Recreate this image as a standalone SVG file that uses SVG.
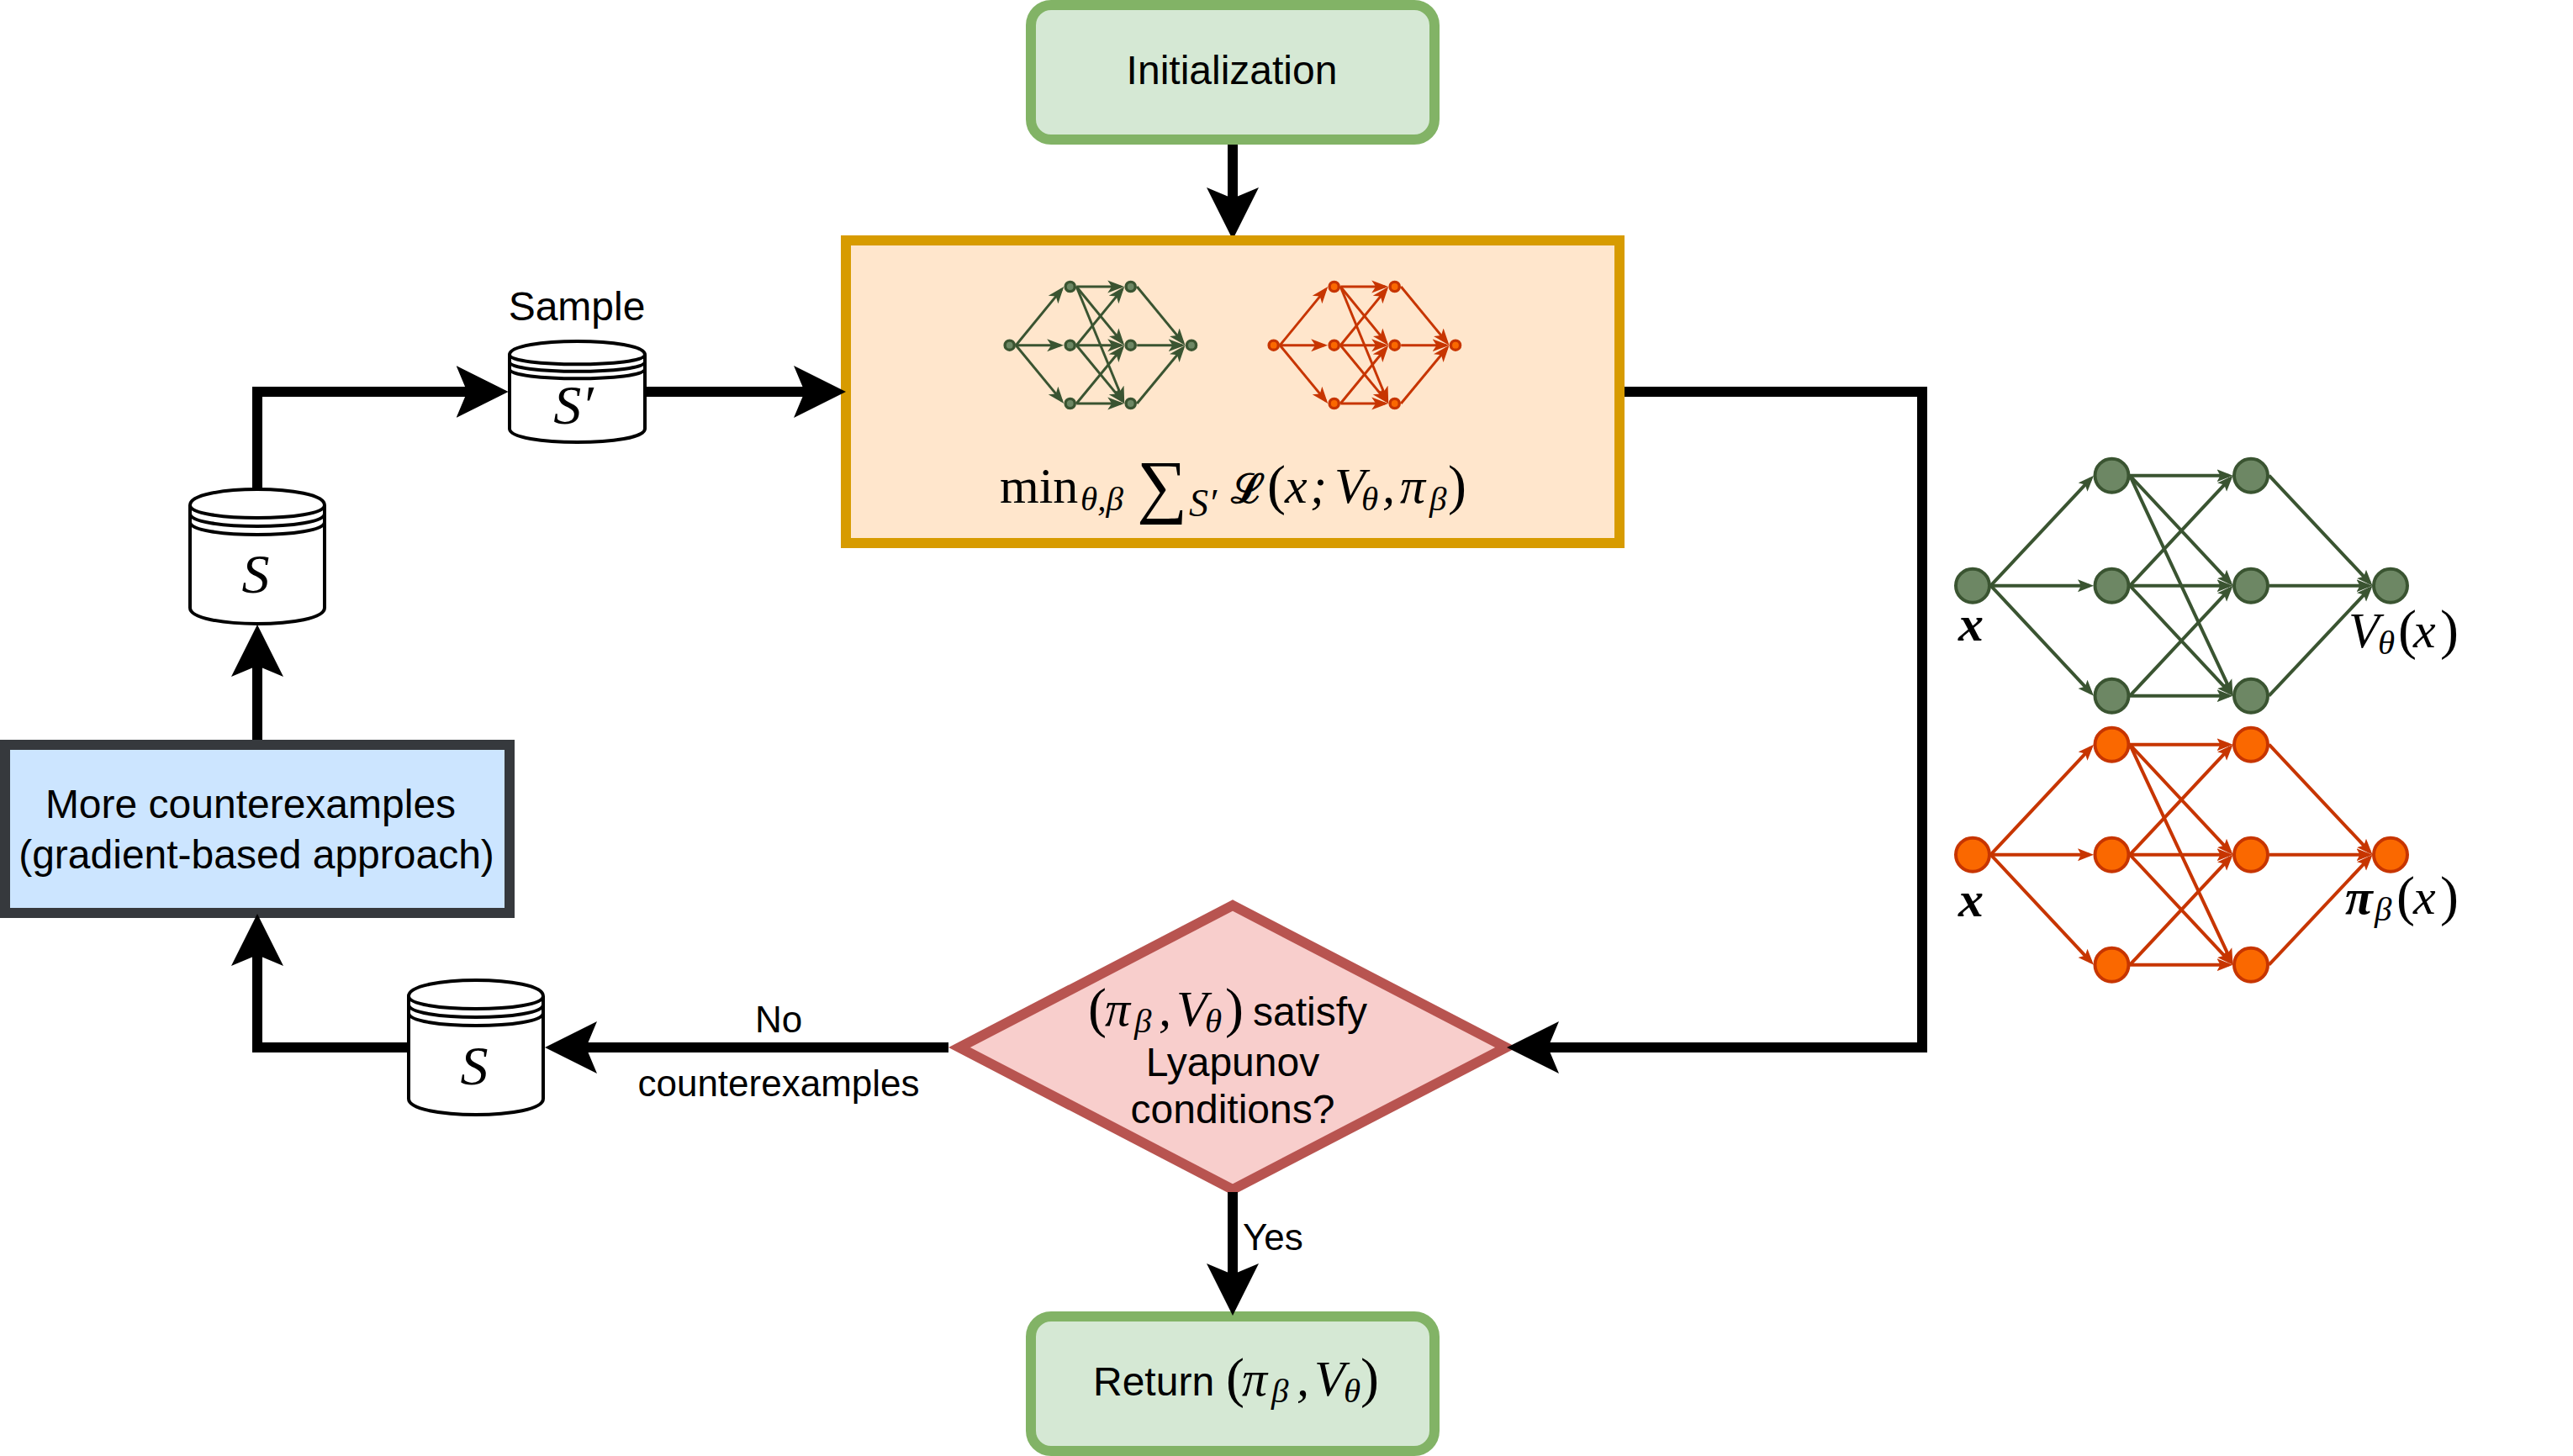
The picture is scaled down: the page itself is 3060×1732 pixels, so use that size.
<svg xmlns="http://www.w3.org/2000/svg" width="3060" height="1732" viewBox="0 0 3060 1732">
<style>
text{fill:#000}
.t{font-family:"Liberation Sans",Arial,sans-serif;font-size:48px}
.t44{font-family:"Liberation Sans",Arial,sans-serif;font-size:44px}
.m{font-family:"Liberation Serif","Times New Roman",serif;font-size:60px;font-style:italic}
.m tspan.up{font-style:normal}
.m tspan.p{font-style:normal;font-size:66px}
.m tspan.s{font-size:41px}
.big{font-size:66px}
.c{text-anchor:middle}
.cyl{fill:#fff;stroke:#000;stroke-width:4}
.cyl path.l{fill:none}
.box{stroke-width:12}
.green{fill:#d5e8d4;stroke:#82b366}
.conn{fill:none;stroke:#000;stroke-width:12;stroke-linejoin:miter}
.eg{fill:none;stroke:#3a5431;stroke-width:4}
.eo{fill:none;stroke:#c73500;stroke-width:4}
.eg line{marker-end:url(#ag)}
.eo line{marker-end:url(#ao)}
.eg.mini,.eo.mini{stroke-width:3}
.eg.mini line{marker-end:url(#agm)}
.eo.mini line{marker-end:url(#aom)}
.ng circle{fill:#6d8764;stroke:#3a5431;stroke-width:4}
.no circle{fill:#fa6800;stroke:#c73500;stroke-width:4}
.ng.mini circle,.no.mini circle{stroke-width:3.4}
</style>
<defs>
<marker id="ab" markerUnits="userSpaceOnUse" viewBox="0 -32 62 64" markerWidth="62" markerHeight="64" refX="50" refY="0" orient="auto"><path d="M0,-31L62,0L0,31L13,0Z" fill="#000"/></marker>
<marker id="abt" markerUnits="userSpaceOnUse" viewBox="0 -32 62 64" markerWidth="62" markerHeight="64" refX="50" refY="0" orient="auto"><path d="M0,-31L57,-2.5L57,2.5L0,31L13,0Z" fill="#000"/></marker>
<marker id="ag" markerUnits="userSpaceOnUse" viewBox="0 -8 19 16" markerWidth="19" markerHeight="16" refX="14" refY="0" orient="auto"><path d="M0,-7.5L19,0L0,7.5L4,0Z" fill="#3a5431"/></marker>
<marker id="ao" markerUnits="userSpaceOnUse" viewBox="0 -8 19 16" markerWidth="19" markerHeight="16" refX="14" refY="0" orient="auto"><path d="M0,-7.5L19,0L0,7.5L4,0Z" fill="#c73500"/></marker>
<marker id="agm" markerUnits="userSpaceOnUse" viewBox="0 -8 20 16" markerWidth="20" markerHeight="16" refX="16" refY="0" orient="auto"><path d="M0,-7.5L20,0L0,7.5L5,0Z" fill="#3a5431"/></marker>
<marker id="aom" markerUnits="userSpaceOnUse" viewBox="0 -8 20 16" markerWidth="20" markerHeight="16" refX="16" refY="0" orient="auto"><path d="M0,-7.5L20,0L0,7.5L5,0Z" fill="#c73500"/></marker>
</defs>

<g id="node-init"><rect class="box green" x="1226" y="6" width="480" height="160" rx="24"/><text class="t c" x="1465" y="100">Initialization</text></g>
<g id="node-return"><rect class="box green" x="1226" y="1566" width="480" height="160" rx="24"/>
<text class="t" x="1300" y="1660">Return</text>
<text class="m" y="1660"><tspan class="p" x="1458" y="1661">(</tspan><tspan x="1477" y="1660">π</tspan><tspan class="s" x="1512" y="1668">β</tspan><tspan x="1542" y="1660">,</tspan><tspan x="1563">V</tspan><tspan class="s" x="1598" y="1668">θ</tspan><tspan class="p" x="1618" y="1661">)</tspan></text></g>
<g id="node-more"><rect class="box" fill="#cce5ff" stroke="#36393d" x="6" y="886" width="600" height="200"/><text class="t c" x="298" y="973">More counterexamples</text><text class="t c" x="305" y="1033">(gradient-based approach)</text></g>
<g id="node-check"><polygon class="box" fill="#f8cecc" stroke="#b85450" points="1466,1077 1791,1246 1466,1415 1141,1246"/>
<text class="m" y="1220"><tspan class="p" x="1294" y="1221">(</tspan><tspan x="1314" y="1220">π</tspan><tspan class="s" x="1349" y="1228">β</tspan><tspan x="1378" y="1220">,</tspan><tspan x="1399">V</tspan><tspan class="s" x="1433" y="1228">θ</tspan><tspan class="p" x="1457" y="1221">)</tspan></text>
<text class="t" x="1490" y="1220">satisfy</text>
<text class="t c" x="1466" y="1280">Lyapunov</text><text class="t c" x="1466" y="1336">conditions?</text></g>

<g id="node-S"><g class="cyl"><path d="M226,601C226,575.7 386,575.7 386,601V723C386,748.3 226,748.3 226,723Z"/><path class="l" d="M226,601C226,621 386,621 386,601M226,611C226,631 386,631 386,611M226,621C226,641 386,641 386,621"/></g><text class="m c big" x="304" y="705">S</text></g>
<g id="node-Sprime"><g class="cyl"><path d="M606,422C606,400.7 767,400.7 767,422V510C767,531.3 606,531.3 606,510Z"/><path class="l" d="M606,422C606,437 767,437 767,422M606,430.5C606,445.5 767,445.5 767,430.5M606,439C606,454 767,454 767,439"/></g><text class="m c big" x="682" y="504">S′</text><text class="t c" x="686" y="381">Sample</text></g>
<g id="node-S2"><g class="cyl" transform="translate(260,584)"><path d="M226,601C226,575.7 386,575.7 386,601V723C386,748.3 226,748.3 226,723Z"/><path class="l" d="M226,601C226,621 386,621 386,601M226,611C226,631 386,631 386,611M226,621C226,641 386,641 386,621"/></g><text class="m c big" x="564" y="1290">S</text></g>

<g id="net-value">
<g id="edges-value" class="eg">
<line x1="2367.5" y1="696.7" x2="2486.6" y2="569.3"/><line x1="2367.5" y1="696.7" x2="2485" y2="696.7"/><line x1="2367.5" y1="696.7" x2="2486.6" y2="824.1"/>
<line x1="2533" y1="565.7" x2="2650.5" y2="565.7"/><line x1="2533" y1="565.7" x2="2652.1" y2="693.1"/><line x1="2533" y1="565.7" x2="2653.4" y2="823.2"/>
<line x1="2533" y1="696.7" x2="2652.1" y2="569.3"/><line x1="2533" y1="696.7" x2="2650.5" y2="696.7"/><line x1="2533" y1="696.7" x2="2652.1" y2="824.1"/>
<line x1="2533" y1="827.7" x2="2652.1" y2="700.3"/><line x1="2533" y1="827.7" x2="2650.5" y2="827.7"/>
<line x1="2698.5" y1="565.7" x2="2818.1" y2="693.1"/><line x1="2698.5" y1="696.7" x2="2816.5" y2="696.7"/><line x1="2698.5" y1="827.7" x2="2818.1" y2="700.3"/>
</g>
<g class="ng">
<circle cx="2346" cy="696.7" r="20"/>
<circle cx="2511.5" cy="565.7" r="20"/><circle cx="2511.5" cy="696.7" r="20"/><circle cx="2511.5" cy="827.7" r="20"/>
<circle cx="2677" cy="565.7" r="20"/><circle cx="2677" cy="696.7" r="20"/><circle cx="2677" cy="827.7" r="20"/>
<circle cx="2843" cy="696.7" r="20"/>
</g>
<text class="m c" x="2344" y="762" font-weight="bold">x</text>
<text class="m" y="770"><tspan x="2793">V</tspan><tspan class="s" x="2828" y="778">θ</tspan><tspan class="p" x="2852" y="771">(</tspan><tspan x="2870" y="770">x</tspan><tspan class="p" x="2902" y="771">)</tspan></text>
</g>

<g id="net-policy">
<g id="edges-policy" class="eo">
<line x1="2367.5" y1="1016.7" x2="2486.6" y2="889.3"/><line x1="2367.5" y1="1016.7" x2="2485" y2="1016.7"/><line x1="2367.5" y1="1016.7" x2="2486.6" y2="1144.1"/>
<line x1="2533" y1="885.7" x2="2650.5" y2="885.7"/><line x1="2533" y1="885.7" x2="2652.1" y2="1013.1"/><line x1="2533" y1="885.7" x2="2653.4" y2="1143.2"/>
<line x1="2533" y1="1016.7" x2="2652.1" y2="889.3"/><line x1="2533" y1="1016.7" x2="2650.5" y2="1016.7"/><line x1="2533" y1="1016.7" x2="2652.1" y2="1144.1"/>
<line x1="2533" y1="1147.7" x2="2652.1" y2="1020.3"/><line x1="2533" y1="1147.7" x2="2650.5" y2="1147.7"/>
<line x1="2698.5" y1="885.7" x2="2818.1" y2="1013.1"/><line x1="2698.5" y1="1016.7" x2="2816.5" y2="1016.7"/><line x1="2698.5" y1="1147.7" x2="2818.1" y2="1020.3"/>
</g>
<g class="no">
<circle cx="2346" cy="1016.7" r="20"/>
<circle cx="2511.5" cy="885.7" r="20"/><circle cx="2511.5" cy="1016.7" r="20"/><circle cx="2511.5" cy="1147.7" r="20"/>
<circle cx="2677" cy="885.7" r="20"/><circle cx="2677" cy="1016.7" r="20"/><circle cx="2677" cy="1147.7" r="20"/>
<circle cx="2843" cy="1016.7" r="20"/>
</g>
<text class="m c" x="2344" y="1090" font-weight="bold">x</text>
<text class="m" y="1087"><tspan x="2789" font-weight="bold">π</tspan><tspan class="s" x="2824" y="1095">β</tspan><tspan class="p" x="2850" y="1088">(</tspan><tspan x="2870" y="1087">x</tspan><tspan class="p" x="2902" y="1088">)</tspan></text>
</g>

<g id="node-train"><rect class="box" fill="#ffe6cc" stroke="#d79b00" x="1006" y="286" width="920" height="360"/>
<g id="mini-value">
<g class="eg mini">
<line x1="1208.2" y1="410.7" x2="1262.7" y2="344.1"/><line x1="1208.2" y1="410.7" x2="1261.2" y2="410.7"/><line x1="1208.2" y1="410.7" x2="1262.7" y2="476.9"/>
<line x1="1280.2" y1="341" x2="1333.2" y2="341"/><line x1="1280.2" y1="341" x2="1334.7" y2="407.6"/><line x1="1280.2" y1="341" x2="1335.7" y2="476.3"/>
<line x1="1280.2" y1="410.7" x2="1334.7" y2="344.1"/><line x1="1280.2" y1="410.7" x2="1333.2" y2="410.7"/><line x1="1280.2" y1="410.7" x2="1334.7" y2="476.9"/>
<line x1="1280.2" y1="480" x2="1334.7" y2="413.8"/><line x1="1280.2" y1="480" x2="1333.2" y2="480"/>
<line x1="1352.2" y1="341" x2="1407" y2="407.6"/><line x1="1352.2" y1="410.7" x2="1405.5" y2="410.7"/><line x1="1352.2" y1="480" x2="1407" y2="413.8"/>
</g>
<g class="ng mini">
<circle cx="1200.7" cy="410.7" r="5.6"/><circle cx="1272.7" cy="341" r="5.6"/><circle cx="1272.7" cy="410.7" r="5.6"/><circle cx="1272.7" cy="480" r="5.6"/>
<circle cx="1344.7" cy="341" r="5.6"/><circle cx="1344.7" cy="410.7" r="5.6"/><circle cx="1344.7" cy="480" r="5.6"/><circle cx="1417" cy="410.7" r="5.6"/>
</g>
</g>
<g id="mini-policy" transform="translate(314,0)">
<g class="eo mini">
<line x1="1208.2" y1="410.7" x2="1262.7" y2="344.1"/><line x1="1208.2" y1="410.7" x2="1261.2" y2="410.7"/><line x1="1208.2" y1="410.7" x2="1262.7" y2="476.9"/>
<line x1="1280.2" y1="341" x2="1333.2" y2="341"/><line x1="1280.2" y1="341" x2="1334.7" y2="407.6"/><line x1="1280.2" y1="341" x2="1335.7" y2="476.3"/>
<line x1="1280.2" y1="410.7" x2="1334.7" y2="344.1"/><line x1="1280.2" y1="410.7" x2="1333.2" y2="410.7"/><line x1="1280.2" y1="410.7" x2="1334.7" y2="476.9"/>
<line x1="1280.2" y1="480" x2="1334.7" y2="413.8"/><line x1="1280.2" y1="480" x2="1333.2" y2="480"/>
<line x1="1352.2" y1="341" x2="1407" y2="407.6"/><line x1="1352.2" y1="410.7" x2="1405.5" y2="410.7"/><line x1="1352.2" y1="480" x2="1407" y2="413.8"/>
</g>
<g class="no mini">
<circle cx="1200.7" cy="410.7" r="5.6"/><circle cx="1272.7" cy="341" r="5.6"/><circle cx="1272.7" cy="410.7" r="5.6"/><circle cx="1272.7" cy="480" r="5.6"/>
<circle cx="1344.7" cy="341" r="5.6"/><circle cx="1344.7" cy="410.7" r="5.6"/><circle cx="1344.7" cy="480" r="5.6"/><circle cx="1417" cy="410.7" r="5.6"/>
</g>
</g>
<text class="m" y="598"><tspan class="up" x="1189">min</tspan><tspan class="s" x="1285" y="607">θ,β</tspan><tspan style="font-style:normal;font-size:84px" x="1352" y="606">∑</tspan><tspan class="s" x="1414" y="614" style="font-size:46px">S′</tspan><tspan style="font-family:'DejaVu Serif','Liberation Serif',serif;font-style:normal;font-weight:bold;font-size:48px" x="1464" y="598">ℒ</tspan><tspan class="p" x="1507" y="599">(</tspan><tspan x="1528" y="598">x</tspan><tspan x="1558">;</tspan><tspan x="1587">V</tspan><tspan class="s" x="1619" y="607">θ</tspan><tspan x="1644" y="598">,</tspan><tspan x="1665">π</tspan><tspan class="s" x="1700" y="607">β</tspan><tspan class="p" x="1722" y="599">)</tspan></text>
</g>

<g id="connectors">
<path class="conn" marker-end="url(#abt)" d="M1466,172V273"/>
<path class="conn" marker-end="url(#ab)" d="M767,466H994"/>
<path class="conn" marker-end="url(#ab)" d="M306,582V466H592.6"/>
<path class="conn" marker-end="url(#ab)" d="M306,880V755"/>
<path class="conn" marker-end="url(#ab)" d="M486,1246H306V1099"/>
<path class="conn" marker-end="url(#ab)" d="M1128,1246H660"/>
<path class="conn" marker-end="url(#ab)" d="M1932,466H2286V1246H1804"/>
<path class="conn" marker-end="url(#ab)" d="M1466,1418V1553"/>
</g>
<g id="edge-labels">
<text class="t44 c" x="926" y="1228">No</text>
<text class="t44 c" x="926" y="1304">counterexamples</text>
<text class="t44" x="1478" y="1487">Yes</text>
</g>
</svg>
